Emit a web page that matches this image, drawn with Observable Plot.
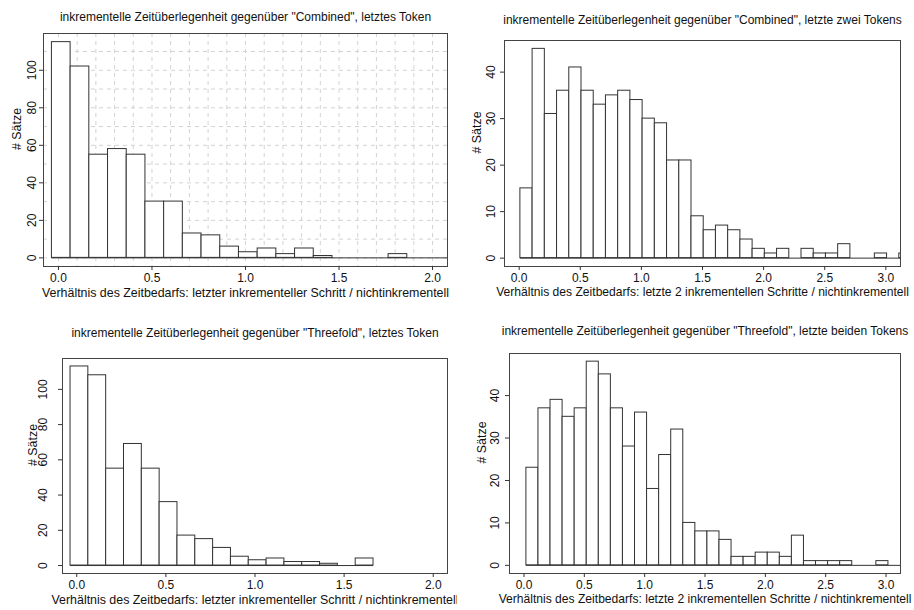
<!DOCTYPE html>
<html><head><meta charset="utf-8">
<script src="https://cdn.jsdelivr.net/npm/d3@7"></script>
<script src="https://cdn.jsdelivr.net/npm/@observablehq/plot@0.6"></script>
<style>
body{margin:0;background:#fff;}
#wrap{position:relative;width:914px;height:610px;background:#fff;overflow:hidden;}
#wrap > div, #wrap > svg{position:absolute;}
</style></head><body><div id="wrap"></div>
<script>
// ---------- data ----------
const binWidth = 0.1;
const yAxisLabel = "# Sätze";

const p1Title = 'inkrementelle Zeitüberlegenheit gegenüber "Combined", letztes Token';
const p1XLabel = "Verhältnis des Zeitbedarfs: letzter inkrementeller Schritt / nichtinkrementell";
const p1BinStart = -0.035;
const p1Counts = [115, 102, 55, 58, 55, 30, 30, 13, 12, 6, 3, 5, 2, 5, 1, 0, 0, 0, 2, 0, 0, 0];
const p1XTicks = [0, 0.5, 1, 1.5, 2];
const p1YTicks = [0, 20, 40, 60, 80, 100];
const p1GridX = [0, 0.1, 0.2, 0.3, 0.4, 0.5, 0.6, 0.7, 0.8, 0.9, 1, 1.1, 1.2, 1.3, 1.4, 1.5, 1.6, 1.7, 1.8, 1.9, 2];
const p1GridY = [0, 10, 20, 30, 40, 50, 60, 70, 80, 90, 100, 110];

const p2Title = 'inkrementelle Zeitüberlegenheit gegenüber "Combined", letzte zwei Tokens';
const p2XLabel = "Verhältnis des Zeitbedarfs: letzte 2 inkrementellen Schritte / nichtinkrementell";
const p2BinStart = 0.01;
const p2Counts = [15, 45, 31, 36, 41, 36, 33, 35, 36, 34, 30, 29, 21, 21, 9, 6, 7, 6, 4, 2, 1, 2, 0, 2, 1, 1, 3, 0, 0, 1, 0, 1];
const p2XTicks = [0, 0.5, 1, 1.5, 2, 2.5, 3];
const p2YTicks = [0, 10, 20, 30, 40];

const p3Title = 'inkrementelle Zeitüberlegenheit gegenüber "Threefold", letztes Token';
const p3XLabel = "Verhältnis des Zeitbedarfs: letzter inkrementeller Schritt / nichtinkrementell";
const p3BinStart = -0.035;
const p3Counts = [113, 108, 55, 69, 55, 36, 17, 15, 10, 5, 3, 4, 2, 2, 1, 0, 4];
const p3XTicks = [0, 0.5, 1, 1.5, 2];
const p3YTicks = [0, 20, 40, 60, 80, 100];

const p4Title = 'inkrementelle Zeitüberlegenheit gegenüber "Threefold", letzte beiden Tokens';
const p4XLabel = "Verhältnis des Zeitbedarfs: letzte 2 inkrementellen Schritte / nichtinkrementell";
const p4BinStart = 0.02;
const p4Counts = [23, 37, 39, 35, 37, 48, 45, 37, 28, 36, 18, 26, 32, 10, 8, 8, 6, 2, 2, 3, 3, 2, 7, 1, 1, 1, 1, 0, 0, 1, 0];
const p4XTicks = [0, 0.5, 1, 1.5, 2, 2.5, 3];
const p4YTicks = [0, 10, 20, 30, 40];

// ---------- drawing ----------
const FONT = '"Liberation Sans", Arial, Helvetica, sans-serif';
const INK = "#111";
const BAR = "#333";

function panel(cfg) {
  const bins = cfg.counts.map((c, i) => ({
    x1: cfg.start + i * binWidth,
    x2: cfg.start + (i + 1) * binWidth,
    count: c
  }));
  const marks = [];
  if (cfg.gridX) {
    marks.push(
      Plot.gridX(cfg.gridX, {stroke: "#d3d3d3", strokeOpacity: 1, strokeDasharray: "4,4"}),
      Plot.gridY(cfg.gridY, {stroke: "#d3d3d3", strokeOpacity: 1, strokeDasharray: "4,4"})
    );
  }
  marks.push(
    Plot.rect(bins, {x1: "x1", x2: "x2", y1: 0, y2: "count", fill: "white", stroke: BAR, strokeWidth: 1, clip: true}),
    Plot.ruleY([0], {x1: bins[0].x1, x2: bins[bins.length - 1].x2, stroke: BAR, strokeWidth: 1, clip: true}),
    Plot.frame({stroke: "#444", strokeWidth: 1}),
    Plot.axisX({ticks: cfg.xTicks, tickFormat: d3.format(".1f"), tickSize: 4, tickPadding: cfg.xTickPad, label: null, stroke: "#333", fill: INK, fontSize: 12}),
    Plot.axisY({ticks: cfg.yTicks, tickFormat: d3.format("d"), tickRotate: -90, tickSize: 4, tickPadding: cfg.yTickPad, label: null, stroke: "#333", fill: INK, fontSize: 12}),
    Plot.text([cfg.title], {frameAnchor: "top", dy: -cfg.titleOff, lineAnchor: "middle", fill: INK, fontSize: 12}),
    Plot.text([cfg.xLabel], {frameAnchor: "bottom", dy: cfg.xLabOff, lineAnchor: "middle", fill: INK, fontSize: cfg.labSize}),
    Plot.text([yAxisLabel], {frameAnchor: "left", dx: -cfg.yLabOff, rotate: -90, lineAnchor: "middle", fill: INK, fontSize: 12.4})
  );
  const svg = Plot.plot({
    width: 457, height: 305,
    marginLeft: cfg.m[0], marginRight: cfg.m[1], marginTop: cfg.m[2], marginBottom: cfg.m[3],
    x: {domain: cfg.xDomain},
    y: {domain: cfg.yDomain},
    style: {fontFamily: FONT, fontSize: "12px", color: INK, background: "white", overflow: "visible"},
    marks
  });
  svg.style.position = "absolute";
  svg.style.left = cfg.left + "px";
  svg.style.top = cfg.top + "px";
  document.getElementById("wrap").appendChild(svg);
}

panel({title: p1Title, xLabel: p1XLabel, start: p1BinStart, counts: p1Counts,
  xTicks: p1XTicks, yTicks: p1YTicks, gridX: p1GridX, gridY: p1GridY,
  xDomain: [-0.08, 2.08], yDomain: [-4.6, 119.6],
  m: [43, 10, 33, 39], left: 0, top: 0, labSize: 12.4,
  titleOff: 16.6, xLabOff: 27, yLabOff: 26, xTickPad: 3, yTickPad: 3.9});

panel({title: p2Title, xLabel: p2XLabel, start: p2BinStart, counts: p2Counts,
  xTicks: p2XTicks, yTicks: p2YTicks,
  xDomain: [-0.12, 3.12], yDomain: [-1.8, 46.8],
  m: [47, 14, 40, 39], left: 457, top: 0, labSize: 12.1,
  titleOff: 20, xLabOff: 26, yLabOff: 27.7, xTickPad: 3, yTickPad: 6});

panel({title: p3Title, xLabel: p3XLabel, start: p3BinStart, counts: p3Counts,
  xTicks: p3XTicks, yTicks: p3YTicks,
  xDomain: [-0.08, 2.08], yDomain: [-4.52, 117.52],
  m: [62, 10, 53, 37], left: 0, top: 305, labSize: 12.4,
  titleOff: 25, xLabOff: 26.3, yLabOff: 29, xTickPad: 3, yTickPad: 12});

panel({title: p4Title, xLabel: p4XLabel, start: p4BinStart, counts: p4Counts,
  xTicks: p4XTicks, yTicks: p4YTicks,
  xDomain: [-0.12, 3.12], yDomain: [-1.92, 49.92],
  m: [52, 14, 48, 37], left: 457, top: 305, labSize: 12.1,
  titleOff: 22.7, xLabOff: 25.6, yLabOff: 27.3, xTickPad: 3, yTickPad: 6.3});
</script></body></html>
